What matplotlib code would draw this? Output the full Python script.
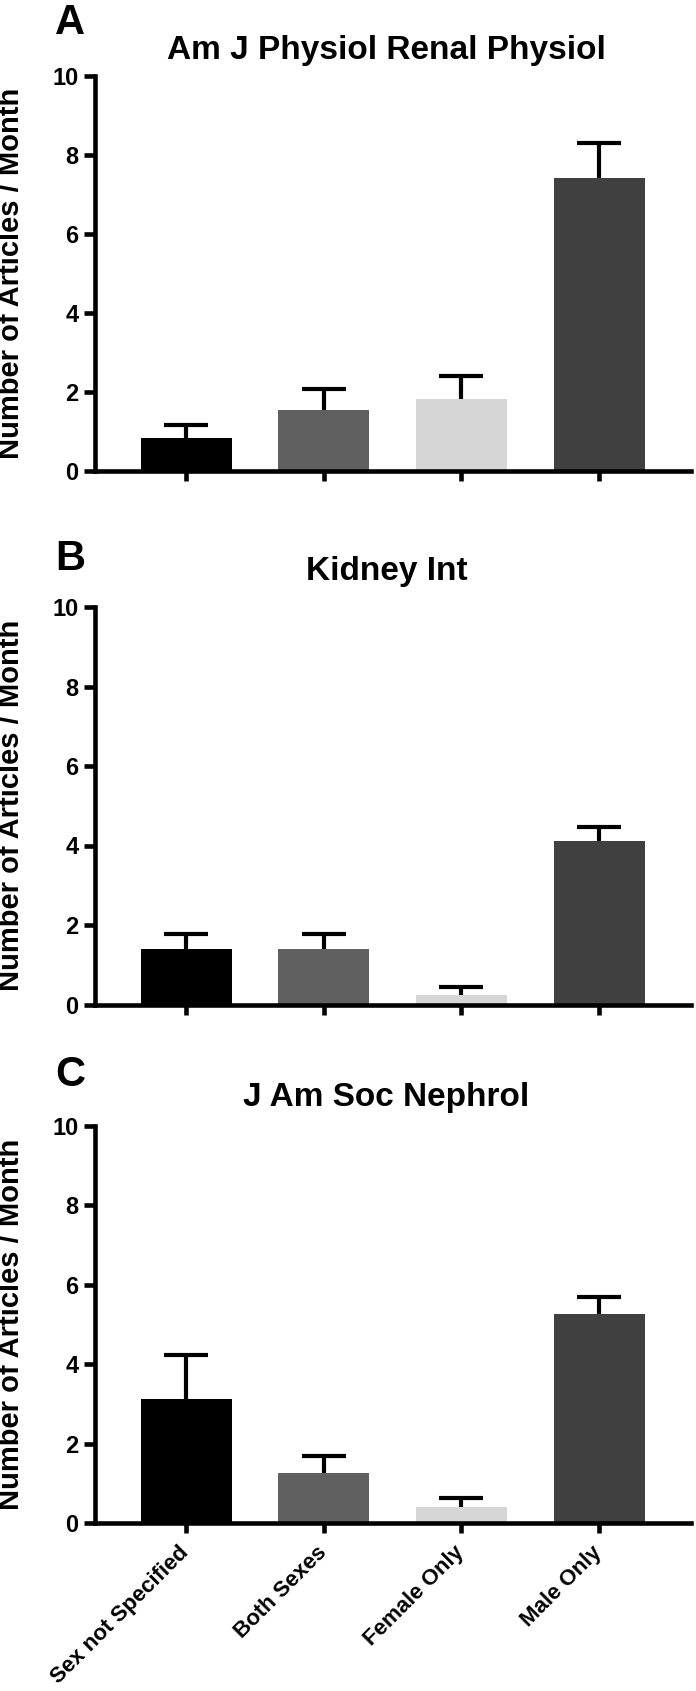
import matplotlib
matplotlib.use('Agg')
import matplotlib.pyplot as plt

plt.rcParams['font.family'] = ['Liberation Sans', 'DejaVu Sans']
plt.rcParams['font.weight'] = 'bold'

categories = ['Sex not Specified', 'Both Sexes', 'Female Only', 'Male Only']
colors = ['#000000', '#606060', '#d6d6d6', '#404040']

journals = ['Am J Physiol Renal Physiol', 'Kidney Int', 'J Am Soc Nephrol']
panel_letters = ['A', 'B', 'C']

means_a = [0.83, 1.55, 1.83, 7.42]
sem_a = [0.34, 0.53, 0.57, 0.89]
means_b = [1.40, 1.40, 0.25, 4.12]
sem_b = [0.38, 0.38, 0.20, 0.35]
means_c = [3.12, 1.27, 0.41, 5.27]
sem_c = [1.12, 0.42, 0.21, 0.42]

all_means = [means_a, means_b, means_c]
all_sems = [sem_a, sem_b, sem_c]

W, H = 696, 1691
fig = plt.figure(figsize=(W / 100, H / 100), dpi=100)

# pixel geometry of each panel: (axis top, axis zero line, title baseline, letter baseline)
panels = [(76, 471, 59, 34), (607, 1004.5, 580, 570), (1126, 1523, 1106, 1086)]
ax_left, ax_right = 95, 691
ax_w = ax_right - ax_left

for i, (top, zero, title_y, letter_y) in enumerate(panels):
    ax = fig.add_axes([ax_left / W, 1 - zero / H, ax_w / W, (zero - top) / H])
    x = range(len(categories))
    ax.bar(x, all_means[i], width=0.661, color=colors, zorder=2)
    line, caps, bars = ax.errorbar(x, all_means[i], yerr=[[0] * 4, all_sems[i]], fmt='none',
                                   ecolor='black', elinewidth=3, capsize=16, capthick=3, zorder=1)
    caps[0].set_visible(False)  # only the upper cap, like the original
    ax.set_xlim(-0.661, 3.668)
    ax.set_ylim(0, 10)
    ax.set_yticks([0, 2, 4, 6, 8, 10])
    ax.set_xticks(list(x))
    for s in ('top', 'right'):
        ax.spines[s].set_visible(False)
    for s in ('left', 'bottom'):
        ax.spines[s].set_linewidth(3.3)
    ax.tick_params(axis='y', length=8, width=3.3, labelsize=17, pad=4)
    ax.tick_params(axis='x', length=7, width=3.3, labelsize=16, pad=12)
    ax.set_ylabel('Number of Articles / Month', fontsize=21, fontweight='bold')
    ax.yaxis.set_label_coords((25 - ax_left) / ax_w, 0.5)
    if i == 2:
        ax.set_xticklabels(categories, rotation=45, ha='right', va='center', rotation_mode='anchor')
    else:
        ax.set_xticklabels([])
    for lab in ax.get_yticklabels() + ax.get_xticklabels():
        lab.set_fontweight('bold')
    fig.text(386.5 / W, 1 - title_y / H, journals[i], fontsize=24, fontweight='bold',
             ha='center', va='baseline')
    fig.text(55 / W, 1 - letter_y / H, panel_letters[i], fontsize=30, fontweight='bold',
             ha='left', va='baseline')

fig.savefig('out.png', dpi=100)
